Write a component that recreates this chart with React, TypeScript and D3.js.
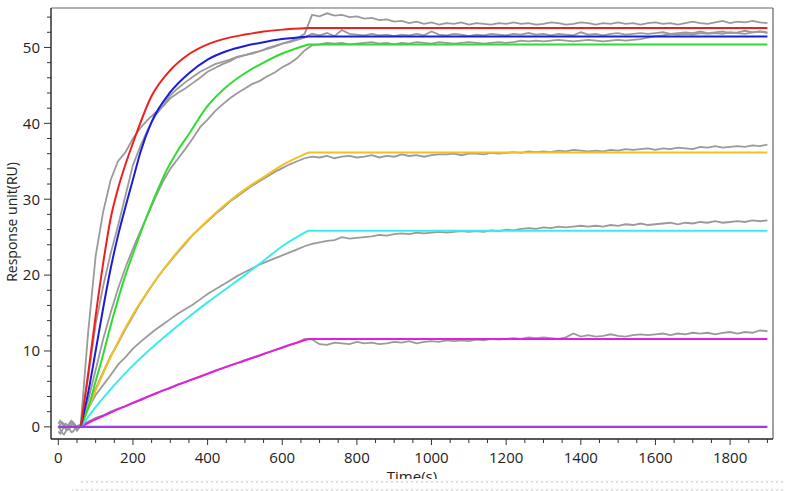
import React from 'react';
import * as d3 from 'd3';

// sampling times of the measured (grey) sensorgrams
const greyTime = d3.range(60, 1901, 20);

// measured responses, one value per greyTime
const measured1 = [
  0.3, 12.5, 22.5, 28.3, 32.5, 35.0, 36.2, 38.0, 39.4, 40.5,
  41.4, 42.2, 43.3, 44.0, 44.6, 45.3, 46.0, 46.8, 47.3, 47.8,
  48.2, 48.7, 49.0, 49.3, 49.5, 49.9, 50.2, 50.5, 50.8, 51.2,
  51.8, 54.3, 54.1, 54.5, 54.2, 54.3, 54.0, 54.1, 53.8, 53.9,
  53.6, 53.7, 53.4, 53.5, 53.2, 53.4, 53.1, 53.3, 53.0, 53.2,
  53.1, 53.3, 53.0, 53.2, 53.1, 53.0, 53.2, 53.1, 53.3, 53.1,
  53.2, 53.0, 53.1, 53.3, 53.2, 53.0, 53.1, 53.3, 53.2, 53.0,
  53.2, 53.1, 53.3, 53.1, 53.2, 53.0, 53.2, 53.3, 53.1, 53.2,
  53.0, 53.2, 53.4, 53.2, 53.1, 53.3, 53.5, 53.2, 53.4, 53.3,
  53.5, 53.3, 53.2,
];
const measured2 = [
  0.3, 6.5, 13.5, 18.5, 22.8, 26.5, 30.5, 34.5, 37.0, 39.2,
  41.0, 42.3, 43.7, 44.6, 45.4, 46.1, 46.8, 47.3, 47.8, 48.1,
  48.4, 48.8, 49.0, 49.2, 49.5, 49.8, 50.1, 50.5, 50.7, 51.0,
  51.3, 51.8, 51.6, 51.9, 51.5, 52.3, 51.8, 51.7, 51.6, 51.8,
  51.6, 51.7, 51.5, 51.7, 51.6, 51.8, 51.6, 52.1, 51.7, 51.6,
  51.8, 51.7, 51.5, 51.7, 51.6, 51.8, 51.7, 51.6, 51.8, 51.7,
  51.9, 51.7, 51.8, 51.6, 51.8, 51.7, 51.6, 52.0, 51.7, 51.8,
  51.6, 51.8, 51.9, 51.7, 51.8, 51.9, 51.8, 51.9, 52.0, 51.8,
  51.9, 52.0, 51.9, 52.1, 51.9, 52.0, 52.1, 51.9, 52.0, 52.2,
  52.0, 52.1, 52.0,
];
const measured3 = [
  0.3, 3.5, 7.5, 11.5, 15.0, 18.2, 21.0, 23.5, 25.8, 28.0,
  30.2, 32.3, 34.0, 35.3, 36.6, 38.0, 39.5, 40.5, 41.6, 42.5,
  43.3, 44.0, 44.6, 45.2, 45.6, 46.2, 46.7, 47.4, 47.9, 48.6,
  49.6, 50.3, 50.4, 50.6, 50.5, 50.6, 50.4, 50.5, 50.6, 50.7,
  50.5, 50.6, 50.4, 50.6, 50.5, 50.7, 50.6, 50.5, 50.7, 50.6,
  50.5, 50.6, 50.7, 50.6, 50.5, 50.6, 50.7, 50.6, 50.7, 50.9,
  50.8, 50.9, 50.8, 50.9, 51.0, 50.9, 50.8, 50.9, 51.0, 50.9,
  50.8, 50.9, 51.0, 50.9, 51.0, 51.1, 51.3, 51.5, 51.6, 51.8,
  51.7, 51.8, 51.7, 51.9, 51.8, 51.9, 51.8, 52.0, 51.9, 51.8,
  52.0, 52.1, 51.9,
];
const measured4 = [
  0.3, 2.6, 5.0, 7.2, 9.3, 11.0, 12.9, 14.6, 16.3, 17.8,
  19.3, 20.6, 21.8, 23.0, 24.1, 25.3, 26.2, 27.1, 28.0, 28.8,
  29.7, 30.4, 31.1, 31.8, 32.4, 33.0, 33.6, 34.1, 34.6, 35.0,
  35.4, 35.6, 35.5, 35.7, 35.4, 35.6, 35.7, 35.5, 35.6, 35.8,
  35.5, 35.7, 35.6, 35.9, 35.7, 35.8, 35.6, 35.8, 35.9, 35.9,
  36.0, 35.8, 36.0, 36.0, 35.9, 36.1, 36.0, 36.1, 36.2, 36.1,
  36.3, 36.2, 36.3, 36.2, 36.4, 36.3, 36.5, 36.4, 36.3, 36.4,
  36.3, 36.5, 36.4, 36.6, 36.5, 36.6, 36.7, 36.5, 36.7, 36.6,
  36.8, 36.7, 36.6, 36.9, 36.8, 37.0, 36.8, 36.9, 37.0, 36.9,
  37.1, 37.0, 37.2,
];
const measured5 = [
  0.3, 2.4, 4.2, 5.5, 6.8, 8.2, 9.2, 10.3, 11.2, 12.0,
  12.8, 13.5, 14.2, 14.9, 15.5, 16.1, 16.8, 17.5, 18.1, 18.7,
  19.3, 19.9, 20.4, 20.9, 21.4, 21.8, 22.2, 22.6, 23.0, 23.4,
  23.8, 24.1, 24.3, 24.5, 24.6, 25.0, 24.8, 24.9, 25.0, 25.1,
  25.3, 25.2, 25.4, 25.5, 25.4, 25.6, 25.5, 25.6, 25.7, 25.6,
  25.7, 25.8, 25.7, 25.8, 25.7, 25.9, 25.8, 26.0, 25.9, 26.1,
  26.2, 26.1, 26.3, 26.2, 26.4, 26.3, 26.4, 26.5, 26.4, 26.5,
  26.4, 26.6, 26.5, 26.7, 26.6, 26.8, 26.6, 26.7, 26.8, 26.9,
  26.7, 26.9, 26.8, 27.0, 26.9, 27.1, 26.9, 27.0, 27.1, 27.0,
  27.2, 27.1, 27.2,
];
const measured6 = [
  0.3, 0.7, 1.2, 1.5, 2.0, 2.4, 2.7, 3.2, 3.5, 4.0,
  4.3, 4.8, 5.1, 5.6, 5.9, 6.3, 6.6, 7.0, 7.4, 7.7,
  8.1, 8.4, 8.8, 9.1, 9.4, 9.8, 10.1, 10.4, 10.8, 11.1,
  11.6, 11.5, 10.9, 10.8, 11.1, 11.0, 10.9, 11.2, 11.0, 11.1,
  10.9, 11.0, 11.2, 11.1, 11.3, 11.0, 11.2, 11.3, 11.2, 11.4,
  11.3, 11.4, 11.3, 11.5, 11.4, 11.6, 11.5, 11.6, 11.7, 11.6,
  11.8, 11.7, 11.8, 11.7, 11.6, 11.8, 12.3, 11.9, 12.1, 11.9,
  12.0, 12.2, 12.0, 11.9, 12.1, 12.2, 12.1, 12.2, 12.3, 12.1,
  12.3, 12.2, 12.4, 12.3, 12.4, 12.2, 12.4, 12.5, 12.3, 12.5,
  12.4, 12.7, 12.6,
];

// pre-injection baseline noise
const baselineTime = [0, 5, 10, 15, 20, 25, 30, 35, 40, 45, 50, 55, 60];
const baseline1 = [-0.2, 0.3, 0.6, 0.4, -0.1, -0.4, -0.2, 0.2, 0.5, 0.3, -0.1, 0.0, 0.3];
const baseline2 = [-0.6, -0.9, -0.5, 0.1, 0.4, 0.2, -0.3, -0.7, -0.6, -0.2, 0.1, 0.2, 0.3];
const baseline3 = [0.1, -0.3, -0.8, -1.0, -0.6, -0.1, 0.3, 0.6, 0.4, -0.1, -0.5, -0.2, 0.3];
const baseline4 = [0.4, 0.8, 0.5, 0.0, -0.3, 0.0, 0.5, 0.8, 0.6, 0.1, -0.3, -0.1, 0.3];

// fitted association curves (time, response); flat after injection end
const runEnd = 1900;
const redTime = [60, 80, 100, 120, 140, 160, 180, 200, 250, 300, 350, 400, 450, 500, 550, 600, 670];
const redFit = [0, 7.0, 14.6, 21.5, 27.4, 31.4, 34.6, 37.4, 43.6, 47.0, 49.1, 50.4, 51.2, 51.7, 52.1, 52.35, 52.55];
const blueTime = [60, 80, 100, 120, 140, 160, 180, 200, 220, 250, 300, 350, 400, 450, 500, 550, 600, 670];
const blueFit = [0, 4.5, 10.0, 15.6, 20.8, 25.2, 29.0, 32.6, 36.2, 40.2, 44.1, 46.6, 48.4, 49.5, 50.2, 50.7, 51.1, 51.45];
const greenTime = [60, 80, 100, 120, 140, 160, 180, 200, 230, 260, 290, 320, 350, 400, 450, 500, 550, 600, 670];
const greenFit = [0, 2.5, 6.0, 9.5, 13.3, 16.8, 20.0, 22.8, 26.8, 30.5, 33.8, 36.4, 38.6, 42.3, 44.8, 46.6, 48.0, 49.2, 50.4];
const yellowTime = [60, 100, 150, 200, 250, 300, 350, 400, 450, 500, 550, 600, 670];
const yellowFit = [0, 4.8, 10.2, 14.8, 18.6, 21.9, 24.8, 27.2, 29.4, 31.3, 32.9, 34.5, 36.15];
const cyanTime = [60, 100, 150, 200, 250, 300, 350, 400, 450, 500, 550, 600, 670];
const cyanFit = [0, 2.6, 5.5, 8.1, 10.4, 12.5, 14.5, 16.4, 18.2, 20.0, 21.9, 23.8, 25.86];
const magentaTime = [60, 100, 150, 200, 260, 300, 350, 400, 450, 500, 550, 600, 670];
const magentaFit = [0, 1.0, 2.1, 3.15, 4.4, 5.15, 6.1, 7.0, 7.9, 8.75, 9.6, 10.45, 11.57];
const blankTime = [0, 1900];
const blankFit = [0, 0];

const xMajor = [0, 200, 400, 600, 800, 1000, 1200, 1400, 1600, 1800];
const yMajor = [0, 10, 20, 30, 40, 50];

const x = d3.scaleLinear().domain([-19.6, 1915]).range([51, 773]);
const y = d3.scaleLinear().domain([-1.6, 55.2]).range([439, 8]);

const greyLine = d3.line<[number, number]>().x(d => x(d[0])).y(d => y(d[1]));
const fitLine = d3.line<[number, number]>().x(d => x(d[0])).y(d => y(d[1])).curve(d3.curveMonotoneX);

const zipPts = (t: number[], v: number[]) => t.map((ti, i) => [ti, v[i]] as [number, number]);

const fitPath = (t: number[], v: number[]) => {
  const last = v[v.length - 1];
  return fitLine(zipPts(t, v)) + `L${x(runEnd)},${y(last)}`;
};

const measured = [measured1, measured2, measured3, measured4, measured5, measured6];
const baselines = [baseline1, baseline2, baseline3, baseline4];
const fits = [
  { t: magentaTime, v: magentaFit, color: '#e020e0' },
  { t: cyanTime, v: cyanFit, color: '#38ecec' },
  { t: yellowTime, v: yellowFit, color: '#efc21e' },
  { t: greenTime, v: greenFit, color: '#2fdc2f' },
  { t: blueTime, v: blueFit, color: '#1c1cd8' },
  { t: redTime, v: redFit, color: '#ee1f1f' },
];

const font = '"Open Sans", "DejaVu Sans", sans-serif';

export default function App() {
  return (
    <div style={{ position: 'fixed', left: 0, top: 0, background: '#fff' }}>
      <svg width={785} height={491} style={{ display: 'block' }}>
        <defs>
          <pattern id="dots" width="5" height="4" patternUnits="userSpaceOnUse">
            <path d="M1,0.8L3,2.8M3,0.8L1,2.8" stroke="#c4c4c4" strokeWidth="0.7" />
          </pattern>
        </defs>
        <rect width={785} height={491} fill="#fff" />

        {/* frame */}
        <line x1={51} x2={773} y1={8} y2={8} stroke="#9a9a9a" strokeWidth={1.6} />
        <line x1={773} x2={773} y1={8} y2={439} stroke="#444" strokeWidth={1} />

        {/* measured data */}
        {baselines.map((b, i) => (
          <path key={'b' + i} d={greyLine(zipPts(baselineTime, b)) || ''} fill="none" stroke="#999" strokeWidth={1.8} />
        ))}
        {measured.map((m, i) => (
          <path key={'m' + i} d={greyLine(zipPts(greyTime, m)) || ''} fill="none" stroke="#9a9a9a" strokeWidth={1.8} />
        ))}

        {/* fits */}
        {fits.map((f, i) => (
          <path key={'f' + i} d={fitPath(f.t, f.v)} fill="none" stroke={f.color} strokeWidth={2} />
        ))}
        <path d={greyLine(zipPts(blankTime, blankFit)) || ''} fill="none" stroke="#9b3ee0" strokeWidth={2.2} />

        {/* x axis */}
        <line x1={51} x2={773} y1={439} y2={439} stroke="#222" strokeWidth={1.4} />
        {d3.range(0, 1901, 50).map(t => (
          <line key={'xt' + t} x1={x(t)} x2={x(t)} y1={439} y2={t % 200 === 0 ? 445 : 443} stroke="#333" strokeWidth={1} />
        ))}
        {xMajor.map(t => (
          <text key={'xl' + t} x={x(t)} y={463} textAnchor="middle" fontFamily={font} fontSize={15} fill="#222">{t}</text>
        ))}

        {/* y axis */}
        <line x1={51} x2={51} y1={8} y2={439} stroke="#222" strokeWidth={1.4} />
        {d3.range(0, 55, 2).map(v => (
          <line key={'yt' + v} x1={v % 10 === 0 ? 44 : 47} x2={51} y1={y(v)} y2={y(v)} stroke="#333" strokeWidth={1} />
        ))}
        {yMajor.map(v => (
          <text key={'yl' + v} x={40} y={y(v)} dy="0.36em" textAnchor="end" fontFamily={font} fontSize={15} fill="#222">{v}</text>
        ))}

        <text transform="translate(17,222) rotate(-90)" textAnchor="middle" fontFamily={font} fontSize={14} fill="#222">Response unit(RU)</text>
        <text x={412} y={482} textAnchor="middle" fontFamily={font} fontSize={15} fill="#222">Time(s)</text>

        {/* bottom strip */}
        <rect x={0} y={479} width={785} height={12} fill="#fff" />
        <rect x={80} y={479} width={705} height={4} fill="url(#dots)" />
        <rect x={72} y={487} width={713} height={4} fill="url(#dots)" />
      </svg>
    </div>
  );
}
